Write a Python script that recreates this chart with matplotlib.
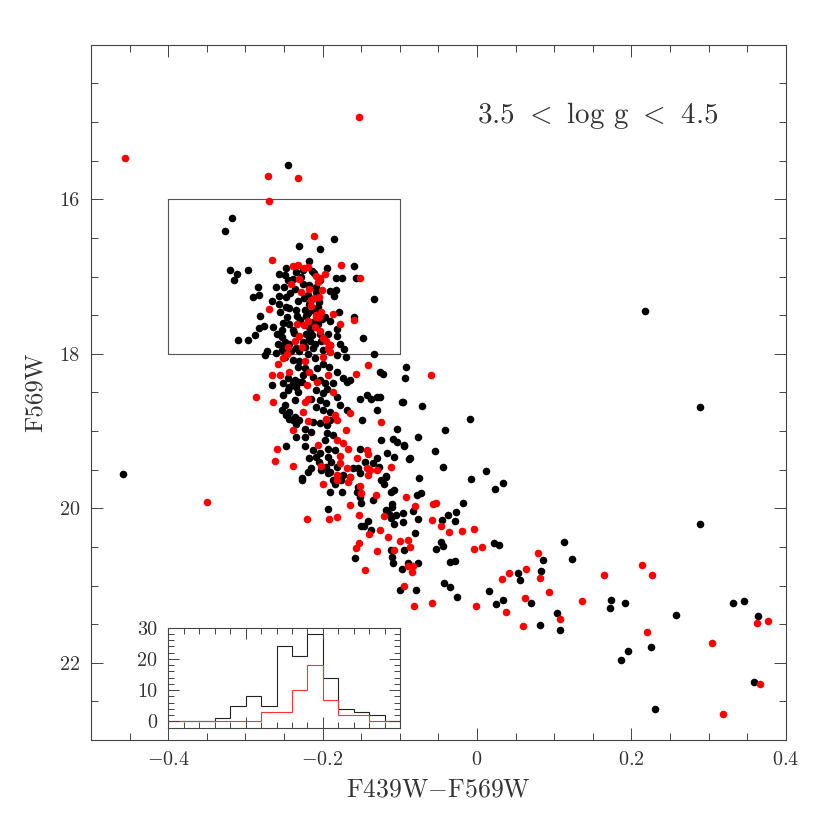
import matplotlib
matplotlib.use("Agg")
import matplotlib.pyplot as plt
from matplotlib.ticker import MultipleLocator

plt.rcParams["font.family"] = "cmr10"
plt.rcParams["mathtext.fontset"] = "cm"
plt.rcParams["axes.formatter.use_mathtext"] = True

# colour (F439W-F569W), magnitude (F569W) of the stars
black_cmd = [
    (-0.458, 19.56), (-0.245, 15.56), (0.217, 17.45),
    # inside the box
    (-0.317, 16.24), (-0.326, 16.41), (-0.185, 16.51), (-0.230, 16.60), (-0.204, 16.64),
    (-0.320, 16.91), (-0.297, 16.92), (-0.311, 16.97), (-0.315, 17.05), (-0.133, 17.29),
    (-0.284, 17.13), (-0.290, 17.27), (-0.282, 17.24), (-0.310, 17.82), (-0.296, 17.82),
    (-0.287, 17.76), (-0.281, 17.51), (-0.283, 17.67), (-0.276, 17.64), (-0.264, 17.65),
    (-0.265, 17.32), (-0.261, 17.13), (-0.256, 16.97), (-0.247, 16.89), (-0.249, 16.98),
    (-0.217, 16.80), (-0.225, 16.91), (-0.194, 16.89), (-0.160, 16.87), (-0.183, 17.02),
    (-0.175, 17.02), (-0.157, 17.02), (-0.211, 16.96), (-0.234, 16.94), (-0.238, 17.03),
    (-0.250, 17.13), (-0.226, 17.10), (-0.217, 17.11), (-0.209, 17.20), (-0.190, 17.19),
    (-0.183, 17.17), (-0.185, 17.25), (-0.256, 17.25), (-0.247, 17.27), (-0.242, 17.22),
    (-0.248, 17.39), (-0.244, 17.41), (-0.255, 17.46), (-0.232, 17.32), (-0.234, 17.44),
    (-0.206, 17.39), (-0.207, 17.48), (-0.212, 17.59), (-0.179, 17.46), (-0.159, 17.52),
    (-0.233, 17.51), (-0.221, 17.51), (-0.243, 17.62), (-0.239, 17.69), (-0.251, 17.60),
    (-0.259, 17.75), (-0.252, 17.78), (-0.218, 17.65), (-0.221, 17.75), (-0.214, 17.76),
    (-0.193, 17.74), (-0.181, 17.68), (-0.181, 17.77), (-0.178, 17.87), (-0.172, 17.94),
    (-0.243, 17.87), (-0.250, 17.91), (-0.235, 17.93), (-0.218, 17.81), (-0.210, 17.88),
    (-0.199, 17.95), (-0.272, 17.96), (-0.260, 17.99), (-0.253, 17.95), (-0.134, 18.00),
    (-0.223, 17.44), (-0.217, 17.35), (-0.197, 17.52), (-0.191, 17.57), (-0.191, 17.89),
    (-0.253, 17.69), (-0.249, 17.85), (-0.223, 17.91), (-0.219, 18.00),
    (-0.214, 16.93), (-0.203, 17.05), (-0.219, 17.24), (-0.205, 17.33), (-0.213, 17.43),
    (-0.201, 17.55), (-0.216, 17.70), (-0.206, 17.62), (-0.202, 17.84), (-0.212, 17.93),
    (-0.219, 17.47), (-0.208, 17.14), (-0.204, 17.75), (-0.216, 17.84),
    (-0.228, 17.00), (-0.236, 17.16), (-0.224, 17.28), (-0.229, 17.56), (-0.237, 17.73),
    (-0.226, 17.85), (-0.231, 17.97), (-0.245, 17.05), (-0.257, 17.36), (-0.246, 17.52),
    (-0.241, 17.97), (-0.258, 17.88), (-0.148, 17.80),
    # below the box
    (-0.092, 18.17), (-0.275, 18.02),
    (-0.249, 18.04), (-0.238, 18.08), (-0.230, 18.10), (-0.232, 18.17), (-0.223, 18.19),
    (-0.210, 18.06), (-0.199, 18.13), (-0.207, 18.19), (-0.192, 18.17), (-0.182, 18.23),
    (-0.181, 18.02), (-0.170, 18.04), (-0.174, 18.32), (-0.168, 18.36), (-0.165, 18.34),
    (-0.126, 18.23), (-0.122, 18.26), (-0.093, 18.31), (-0.096, 18.62), (-0.130, 18.56),
    (-0.126, 18.56), (-0.152, 18.59), (-0.143, 18.54), (-0.137, 18.59), (-0.130, 18.73),
    (-0.149, 18.86), (-0.104, 18.97), (-0.124, 19.12), (-0.109, 19.10), (-0.104, 19.14),
    (-0.094, 19.18), (-0.087, 19.35), (-0.107, 19.34), (-0.117, 19.28), (-0.130, 19.35),
    (-0.135, 19.42), (-0.152, 19.23), (-0.118, 19.60), (-0.266, 18.41), (-0.251, 18.54),
    (-0.245, 18.47), (-0.238, 18.38), (-0.232, 18.49), (-0.236, 18.60), (-0.253, 18.73),
    (-0.243, 18.75), (-0.249, 18.66), (-0.236, 18.82), (-0.230, 18.86), (-0.225, 18.28),
    (-0.227, 18.36), (-0.212, 18.30), (-0.204, 18.34), (-0.208, 18.47), (-0.199, 18.51),
    (-0.215, 18.58), (-0.204, 18.60), (-0.195, 18.64), (-0.209, 18.69), (-0.199, 18.73),
    (-0.191, 18.75), (-0.181, 18.56), (-0.178, 18.66), (-0.169, 18.73), (-0.212, 18.88),
    (-0.204, 18.90), (-0.194, 18.92), (-0.191, 18.86), (-0.223, 18.97), (-0.215, 19.01),
    (-0.234, 19.08), (-0.223, 19.08), (-0.194, 19.03), (-0.187, 19.05), (-0.197, 19.12),
    (-0.223, 19.20), (-0.212, 19.25), (-0.204, 19.29), (-0.193, 19.23), (-0.184, 19.25),
    (-0.217, 19.35), (-0.208, 19.34), (-0.193, 19.33), (-0.189, 19.40), (-0.182, 19.46),
    (-0.247, 19.20), (-0.215, 19.48), (-0.202, 19.50), (-0.193, 19.55), (-0.227, 19.61),
    (-0.174, 19.57), (-0.165, 19.59), (-0.154, 19.48), (-0.152, 19.55), (-0.245, 18.32),
    (-0.236, 18.34), (-0.230, 18.36), (-0.251, 18.38), (-0.243, 18.43), (-0.234, 18.43),
    (-0.197, 18.38), (-0.194, 18.45), (-0.187, 18.38),
    (-0.247, 18.79), (-0.243, 18.85), (-0.238, 18.86), (-0.234, 18.91), (-0.219, 19.53),
    (-0.205, 19.40), (-0.193, 20.01),
    (-0.227, 19.63), (-0.190, 19.79), (-0.175, 19.79), (-0.187, 19.64), (-0.184, 19.68),
    (-0.176, 19.64), (-0.151, 19.85), (-0.150, 19.93), (-0.155, 19.79), (-0.154, 19.72),
    (-0.135, 19.89), (-0.127, 19.46), (-0.118, 19.58), (-0.124, 19.63), (-0.120, 19.69),
    (-0.112, 19.79), (-0.108, 19.76), (-0.110, 19.94), (-0.110, 19.98), (-0.150, 20.23),
    (-0.146, 20.23), (-0.137, 20.28), (-0.141, 20.17), (-0.112, 20.54), (-0.110, 20.63),
    (-0.109, 20.71), (-0.158, 20.64), (-0.195, 19.46), (-0.191, 19.53), (-0.161, 19.48),
    (-0.145, 19.40), (-0.118, 20.02), (-0.114, 20.08), (-0.105, 20.09), (-0.112, 20.13),
    (-0.107, 20.20),
    # red-ward tail
    (0.289, 18.69), (0.289, 20.20), (-0.009, 18.84), (-0.071, 18.67), (-0.097, 18.63),
    (-0.041, 18.99), (-0.076, 19.08), (-0.094, 19.20), (-0.055, 19.26), (-0.088, 19.36),
    (-0.044, 19.47), (0.012, 19.52), (-0.008, 19.62), (-0.075, 19.61), (0.033, 19.67),
    (0.023, 19.75), (-0.073, 19.80), (-0.078, 19.83), (-0.018, 19.93), (-0.083, 20.03),
    (-0.096, 20.06), (-0.027, 20.05), (-0.038, 20.09), (-0.076, 20.14), (-0.046, 20.15),
    (-0.028, 20.17), (-0.096, 20.18), (-0.081, 20.32), (-0.047, 20.44), (-0.044, 20.49),
    (-0.053, 20.53), (-0.095, 20.54), (0.022, 20.45), (0.028, 20.48), (0.113, 20.44),
    (0.123, 20.66), (0.086, 20.67), (0.083, 20.81), (-0.035, 20.70), (-0.028, 20.68),
    (-0.076, 20.71), (-0.089, 20.71), (-0.097, 20.78), (0.053, 20.84), (0.055, 20.93),
    (-0.043, 20.97), (-0.035, 21.02), (-0.079, 21.06), (-0.100, 21.06), (-0.026, 21.15),
    (0.016, 21.07), (0.033, 21.19), (0.024, 21.24), (0.070, 21.23), (0.104, 21.36),
    (0.108, 21.58), (0.082, 21.51), (0.173, 21.19), (0.172, 21.29), (0.191, 21.22),
    (0.257, 21.38), (0.331, 21.22), (0.346, 21.20), (0.364, 21.39), (0.196, 21.85),
    (0.186, 21.96), (0.225, 21.80), (0.230, 22.60), (0.359, 22.25),
]

red_cmd = [
    (-0.456, 15.47), (-0.153, 14.93), (-0.271, 15.70), (-0.232, 15.73), (-0.350, 19.92),
    # inside the box
    (-0.270, 16.02), (-0.211, 16.47), (-0.265, 16.78), (-0.270, 17.42),
    (-0.238, 16.87), (-0.232, 16.85), (-0.224, 16.89), (-0.219, 16.88), (-0.176, 16.85),
    (-0.152, 17.02), (-0.208, 16.99), (-0.204, 17.02), (-0.197, 16.97), (-0.231, 17.03),
    (-0.241, 17.10), (-0.218, 17.16), (-0.228, 17.20), (-0.201, 17.18), (-0.211, 17.28),
    (-0.205, 17.27), (-0.215, 17.38), (-0.202, 17.46), (-0.209, 17.53), (-0.205, 17.52),
    (-0.187, 17.49), (-0.160, 17.56), (-0.178, 17.61), (-0.233, 17.61), (-0.224, 17.63),
    (-0.219, 17.57), (-0.210, 17.65), (-0.231, 17.77), (-0.199, 17.79), (-0.190, 17.89),
    (-0.190, 17.98), (-0.236, 17.83), (-0.227, 17.91), (-0.245, 17.91), (-0.246, 18.00),
    (-0.206, 17.07), (-0.215, 17.30), (-0.208, 17.50), (-0.203, 17.71), (-0.193, 17.93),
    (-0.196, 17.84),
    # below the box
    (-0.141, 18.14), (-0.060, 18.27),
    (-0.286, 18.56), (-0.264, 18.62), (-0.266, 18.28), (-0.255, 18.28), (-0.243, 18.24),
    (-0.258, 18.13), (-0.251, 18.06), (-0.223, 18.10), (-0.217, 18.23), (-0.200, 18.04),
    (-0.193, 18.28), (-0.220, 18.41), (-0.207, 18.36), (-0.187, 18.50), (-0.223, 18.62),
    (-0.219, 18.59), (-0.226, 18.75), (-0.219, 18.87), (-0.196, 18.84), (-0.184, 18.79),
    (-0.181, 18.86), (-0.164, 18.77), (-0.239, 18.99), (-0.170, 18.99), (-0.157, 18.26),
    (-0.124, 18.88), (-0.182, 19.12), (-0.174, 19.16), (-0.206, 19.18), (-0.167, 19.23),
    (-0.259, 19.23), (-0.262, 19.39), (-0.239, 19.45), (-0.178, 19.32), (-0.178, 19.42),
    (-0.168, 19.48), (-0.156, 19.35), (-0.202, 19.45), (-0.143, 19.24), (-0.141, 19.30),
    (-0.143, 19.48), (-0.139, 19.51), (-0.130, 19.51), (-0.111, 19.46), (-0.182, 19.57),
    (-0.141, 19.57),
    (-0.220, 20.14), (-0.192, 20.14), (-0.182, 20.11), (-0.199, 19.69), (-0.182, 19.63),
    (-0.167, 19.66), (-0.165, 19.60), (-0.152, 19.71), (-0.150, 19.80), (-0.165, 19.96),
    (-0.153, 20.09), (-0.131, 19.83), (-0.120, 20.10), (-0.126, 20.28), (-0.140, 20.33),
    (-0.115, 20.37), (-0.153, 20.45), (-0.157, 20.52), (-0.129, 20.55), (-0.108, 20.54),
    (-0.145, 20.80),
    # red-ward tail
    (-0.092, 19.86), (-0.080, 19.97), (-0.057, 19.94), (-0.053, 19.93), (-0.058, 20.15),
    (-0.047, 20.23), (-0.036, 20.31), (-0.019, 20.30), (-0.004, 20.27), (-0.004, 20.53),
    (0.007, 20.50), (-0.089, 20.41), (-0.087, 20.50), (-0.100, 20.42), (-0.089, 20.75),
    (-0.083, 20.75), (-0.084, 20.83), (-0.095, 21.00), (-0.082, 21.27), (-0.058, 21.23),
    (-0.001, 21.26), (0.032, 20.91), (0.041, 20.84), (0.064, 20.78), (0.079, 20.58),
    (0.082, 20.90), (0.093, 21.09), (0.062, 21.16), (0.038, 21.34), (0.059, 21.53),
    (0.107, 21.43), (0.136, 21.20), (0.165, 20.87), (0.214, 20.73), (0.226, 20.86),
    (0.220, 21.60), (0.304, 21.74), (0.363, 21.49), (0.377, 21.46), (0.367, 22.27),
    (0.319, 22.66),
]

# colour histograms of the stars in the box (16 < F569W < 18)
hist_edges = [-0.40, -0.38, -0.36, -0.34, -0.32, -0.30, -0.28, -0.26,
              -0.24, -0.22, -0.20, -0.18, -0.16, -0.14, -0.12, -0.10]
hist_black = [0, 0, 0, 1, 5, 8, 5, 24, 21, 28, 14, 4, 3, 2, 0]
hist_red = [0, 0, 0, 0, 0, 0, 3, 3, 10, 18, 7, 2, 2, 0, 0]

x_ticks = [-0.4, -0.2, 0.0, 0.2, 0.4]
x_ticklabels = ["$-0.4$", "$-0.2$", "$0$", "$0.2$", "$0.4$"]
y_ticks = [16, 18, 20, 22]
y_ticklabels = ["16", "18", "20", "22"]
hist_yticks = [0, 10, 20, 30]
hist_yticklabels = ["0", "10", "20", "30"]

box_color = (-0.4, -0.1)
box_mag = (16.0, 18.0)

edge = "#444444"
txt = "#333333"

fig = plt.figure(figsize=(8.3, 8.3), dpi=100)
ax = fig.add_axes([0.1096, 0.1084, 0.8373, 0.8377])

bx, by = zip(*black_cmd)
rx, ry = zip(*red_cmd)
ax.scatter(bx, by, s=30, c="black", linewidths=0, zorder=3)
ax.scatter(rx, ry, s=30, c="#ff0000", linewidths=0, zorder=4)

ax.plot([box_color[0], box_color[1], box_color[1], box_color[0], box_color[0]],
        [box_mag[0], box_mag[0], box_mag[1], box_mag[1], box_mag[0]],
        color="#555555", lw=0.8, zorder=2)

ax.set_xlim(-0.5, 0.4)
ax.set_ylim(23, 14)
ax.set_xticks(x_ticks)
ax.set_xticklabels(x_ticklabels)
ax.set_yticks(y_ticks)
ax.set_yticklabels(y_ticklabels)
ax.xaxis.set_minor_locator(MultipleLocator(0.05))
ax.yaxis.set_minor_locator(MultipleLocator(0.5))
ax.tick_params(which="both", direction="in", top=True, right=True,
               color=edge, labelcolor=txt, labelsize=14.5, pad=8)
ax.tick_params(which="major", length=8.5, width=0.7)
ax.tick_params(which="minor", length=5, width=0.7)
for sp in ax.spines.values():
    sp.set_linewidth(0.8)
    sp.set_color(edge)

ax.set_xlabel("F439W$-$F569W", fontsize=18.5, color=txt, labelpad=6)
ax.set_ylabel("F569W", fontsize=18, color=txt, labelpad=9)

ax.text(0.0, 14.91, "3.5 $<$ log g $<$ 4.5", fontsize=21, color=txt,
        ha="left", va="center")

# inset histogram
ins = fig.add_axes([0.2030, 0.1233, 0.2790, 0.1205])
ins.stairs(hist_black, hist_edges, baseline=None, color="#222222", lw=0.8)
ins.stairs(hist_red, hist_edges, baseline=None, color="#ff3333", lw=0.8)
ins.set_xlim(-0.4, -0.1)
ins.set_ylim(-2, 30)
ins.xaxis.set_major_locator(MultipleLocator(0.1))
ins.xaxis.set_minor_locator(MultipleLocator(0.02))
ins.set_yticks(hist_yticks)
ins.set_yticklabels(hist_yticklabels)
ins.yaxis.set_minor_locator(MultipleLocator(2))
ins.tick_params(which="both", direction="in", top=True, right=True,
                color=edge, labelcolor=txt, labelsize=14.5, pad=8,
                labelbottom=False)
ins.tick_params(which="major", length=8, width=0.7)
ins.tick_params(which="minor", length=4, width=0.7)
for sp in ins.spines.values():
    sp.set_linewidth(0.8)
    sp.set_color(edge)

fig.savefig("out.png", dpi=100, facecolor="white")
